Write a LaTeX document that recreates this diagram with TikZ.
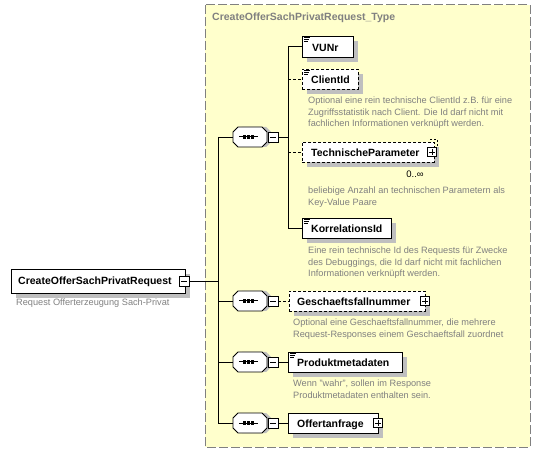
\documentclass[tikz,border=0pt]{standalone}
\usepackage{fontspec}
\setmainfont{Liberation Sans}
\usetikzlibrary{shadows}
\definecolor{bgyellow}{HTML}{FFFFCC}
\definecolor{txtgray}{HTML}{808080}
\definecolor{shadowgray}{HTML}{BFBFBF}
\begin{document}
\begin{tikzpicture}[x=1pt,y=-1pt,
  box/.style={draw=black, line width=0.9pt, fill=white, inner sep=0pt, anchor=west, minimum height=20pt,
    drop shadow={shadow xshift=5pt, shadow yshift=-5pt, fill=shadowgray, opacity=1}},
  optbox/.style={box, dash pattern=on 3pt off 2pt},
  lbl/.style={font=\fontsize{10.5}{12}\selectfont\bfseries, anchor=base west, inner sep=0pt},
  desc/.style={font=\fontsize{9.2}{11.3}\selectfont, text=txtgray, anchor=north west, align=left, inner sep=0pt},
  conn/.style={line width=0.9pt},
  optconn/.style={conn, dash pattern=on 3pt off 2pt},
  btn/.style={draw=black, fill=white, line width=0.8pt, minimum size=9pt, inner sep=0pt},
  minusbtn/.style={btn, path picture={\draw[line width=0.8pt] ([xshift=-3pt]path picture bounding box.center) -- ([xshift=3pt]path picture bounding box.center);}},
  plusbtn/.style={btn, path picture={\draw[line width=0.8pt] ([xshift=-3pt]path picture bounding box.center) -- ([xshift=3pt]path picture bounding box.center) ([yshift=-3pt]path picture bounding box.center) -- ([yshift=3pt]path picture bounding box.center);}},
  seqshape/.style={minimum width=34pt, minimum height=20pt, inner sep=0pt},
]
\useasboundingbox (0,0) rectangle (541,454);

% complex type frame
\draw[fill=bgyellow, draw=txtgray, line width=1pt, dash pattern=on 9pt off 3pt] (205,5) rectangle (530,447);
\node[font=\fontsize{10.5}{12}\selectfont\bfseries, text=txtgray, anchor=base west, inner sep=0pt] (title) at (212,21) {CreateOfferSachPrivatRequest\_Type};

% sequence symbol macro: name, x center, y center
\newcommand\seqsym[3]{%
  \begin{scope}[shift={(#2,#3)}]
    \fill[shadowgray] (-13,-5)--(-8,-10)--(16,-10)--(21,-5)--(21,5)--(16,10)--(-8,10)--(-13,5)--cycle;
    \draw[fill=white, line width=0.9pt] (-17,-5)--(-12,-10)--(12,-10)--(17,-5)--(17,5)--(12,10)--(-12,10)--(-17,5)--cycle;
    \draw[line width=1pt] (-11,0) -- (8,0);
    \fill (-7,-1.6) rectangle +(3.2,3.2);
    \fill (-2.9,-1.6) rectangle +(3.2,3.2);
    \fill (1.2,-1.6) rectangle +(3.2,3.2);
  \end{scope}
  \node[seqshape] (#1) at (#2,#3) {};
  \fill[black!75] ([shift={(19,-4)}]#2,#3) rectangle ++(10,10);
  \node[minusbtn, minimum size=10pt] (#1m) at ([xshift=23pt]#1.center) {};
}
\newcommand\simpleicon[1]{%
  \draw[line width=0.6pt] ([shift={(2,2)}]#1.north west) -- ++(6,0)
    ([shift={(2,4)}]#1.north west) -- ++(5,0)
    ([shift={(2,6)}]#1.north west) -- ++(4,0);
}

% root element
\node[box, minimum width=174pt, minimum height=24pt] (root) at (11,281) {};
\node[lbl] (rootlbl) at (18,285) {CreateOfferSachPrivatRequest};
\node[minusbtn, minimum size=10pt] (rootm) at (184,281) {};
\node[desc, anchor=base west] (rootdesc) at (16,306) {Request Offerterzeugung Sach-Privat};

% sequences
\seqsym{s1}{250}{137}
\seqsym{s2}{250}{301}
\seqsym{s3}{250}{362}
\seqsym{s4}{250}{423}

% trunk
\coordinate (j0) at (218,281);
\coordinate (tA) at (218,137);
\coordinate (tB) at (218,301);
\coordinate (tC) at (218,362);
\coordinate (tD) at (218,423);
\draw[conn] (rootm.east) -- (j0);
\draw[conn] (tA) -- (tD);
\draw[conn] (tA) -- (s1.west);
\draw[conn] (tB) -- (s2.west);
\draw[conn] (tC) -- (s3.west);
\draw[conn] (tD) -- (s4.west);

% first sequence children
\node[box, minimum width=51pt, minimum height=21pt] (vunr) at (302,46.5) {};
\node[lbl] at ([shift={(10,5)}]vunr.west) {VUNr};
\simpleicon{vunr}

\node[optbox, minimum width=56pt] (client) at (302,79) {};
\node[lbl] at ([shift={(9,4.5)}]client.west) {ClientId};
\simpleicon{client}
\node[desc] (clientdesc) at (308,97) {Optional eine rein technische ClientId z.B. für eine\\Zugriffsstatistik nach Client. Die Id darf nicht mit\\fachlichen Informationen verknüpft werden.};

\draw[line width=0.8pt, dash pattern=on 2pt off 2pt] (430,139.5) -- (437.5,139.5) -- (437.5,157);
\node[optbox, minimum width=132pt] (tech) at (302,152) {};
\node[lbl] at ([shift={(9,4.5)}]tech.west) {TechnischeParameter};
\node[plusbtn] (techp) at (432,152) {};
\node[font=\fontsize{9.5}{11}\selectfont, inner sep=0pt] (techocc) at (415,174) {0..∞};
\node[desc] (techdesc) at (308,187) {beliebige Anzahl an technischen Parametern als\\Key-Value Paare};

\node[box, minimum width=89pt] (korr) at (302,228) {};
\node[lbl] at ([shift={(9,4.5)}]korr.west) {KorrelationsId};
\simpleicon{korr}
\node[desc] (korrdesc) at (308,247) {Eine rein technische Id des Requests für Zwecke\\des Debuggings, die Id darf nicht mit fachlichen\\Informationen verknüpft werden.};

\coordinate (b0) at (288,137);
\coordinate (b1) at (288,46.5);
\coordinate (b2) at (288,79);
\coordinate (b3) at (288,152);
\coordinate (b4) at (288,228);
\draw[conn] (s1m.east) -- (b0);
\draw[conn] (b1) -- (b4);
\draw[conn] (b1) -- (vunr.west);
\draw[optconn] (b2) -- (client.west);
\draw[optconn] (b3) -- (tech.west);
\draw[conn] (b4) -- (korr.west);

% second sequence
\node[optbox, minimum width=136pt] (gesch) at (289,301) {};
\node[lbl] at ([shift={(8,4.5)}]gesch.west) {Geschaeftsfallnummer};
\node[plusbtn] (geschp) at (425,301) {};
\draw[optconn] (s2m.east) -- (gesch.west);
\node[desc] (geschdesc) at (293,319) {Optional eine Geschaeftsfallnummer, die mehrere\\Request-Responses einem Geschaeftsfall zuordnet};

% third sequence
\node[box, minimum width=114pt] (prod) at (288,362) {};
\node[lbl] at ([shift={(9,4.5)}]prod.west) {Produktmetadaten};
\simpleicon{prod}
\draw[conn] (s3m.east) -- (prod.west);
\node[desc] (proddesc) at (293,380) {Wenn "wahr", sollen im Response\\Produktmetadaten enthalten sein.};

% fourth sequence
\node[box, minimum width=90pt] (offert) at (288,423) {};
\node[lbl] at ([shift={(9,4.5)}]offert.west) {Offertanfrage};
\node[plusbtn] (offertp) at (378,423) {};
\draw[conn] (s4m.east) -- (offert.west);
\end{tikzpicture}
\end{document}
